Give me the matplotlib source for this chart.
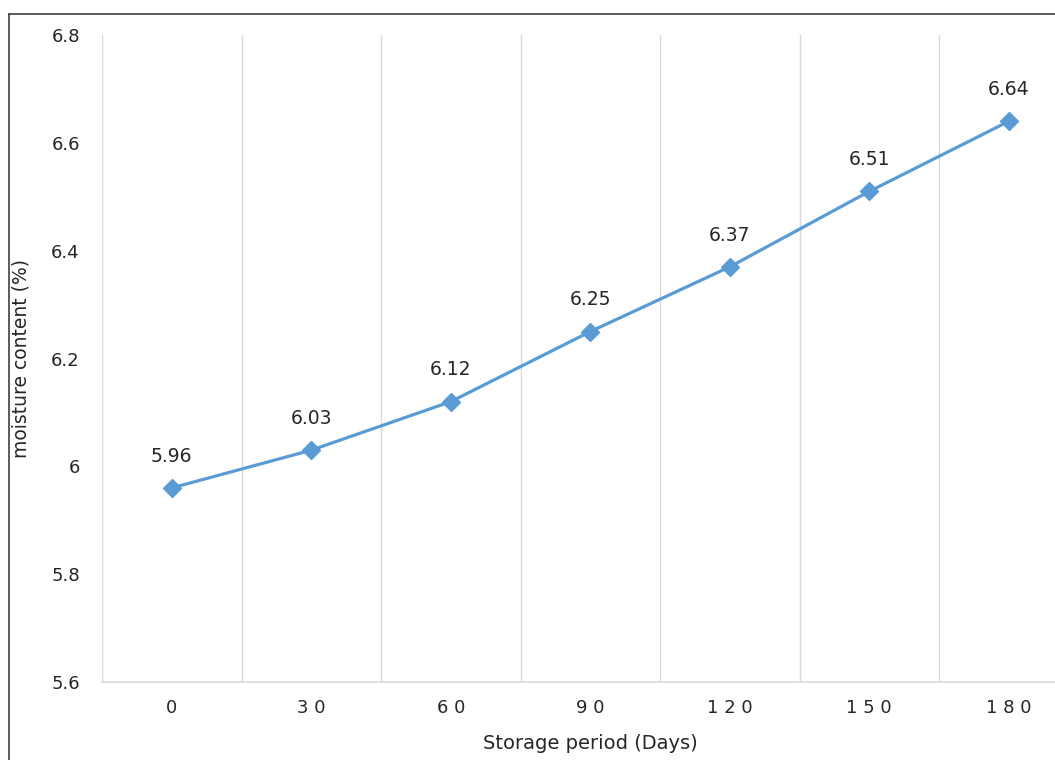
import matplotlib.pyplot as plt
from matplotlib.lines import Line2D

# moisture content over the storage period
days = [0, 30, 60, 90, 120, 150, 180]
day_labels = ["0", "3 0", "6 0", "9 0", "1 2 0", "1 5 0", "1 8 0"]
moisture = [5.96, 6.03, 6.12, 6.25, 6.37, 6.51, 6.64]
y_ticks = [5.6, 5.8, 6.0, 6.2, 6.4, 6.6, 6.8]
y_tick_labels = ["5.6", "5.8", "6", "6.2", "6.4", "6.6", "6.8"]

plt.rcParams['font.family'] = ['DejaVu Sans']

line_color = '#5B9BD5'
grid_color = '#D9D9D9'
text_color = '#404040'

fig = plt.figure(figsize=(10.55, 7.6), dpi=100)
ax = fig.add_axes([0.0967, 0.1026, 0.9256, 0.8513])

x = list(range(len(days)))
ax.plot(x, moisture, color=line_color, linewidth=2.3, marker='D',
        markersize=9, markerfacecolor=line_color, markeredgecolor=line_color)

for xi, v in zip(x, moisture):
    ax.annotate(f"{v:.2f}", (xi, v), xytext=(0, 16), textcoords='offset points',
                ha='center', va='bottom', fontsize=13.5, color='#262626')

ax.set_xlim(-0.5, len(days) - 0.5)
ax.set_ylim(5.6, 6.8)

# vertical gridlines sit between the categories
ax.set_xticks([i + 0.5 for i in range(-1, len(days))], minor=True)
ax.grid(True, which='minor', axis='x', color=grid_color, linewidth=1)
ax.set_xticks(x)
ax.set_xticklabels(day_labels)
ax.set_yticks(y_ticks)
ax.set_yticklabels(y_tick_labels)
ax.tick_params(axis='both', which='both', length=0, labelsize=13, colors='#262626')
ax.tick_params(axis='x', pad=12)
ax.tick_params(axis='y', pad=16)

for side in ['top', 'right', 'left']:
    ax.spines[side].set_visible(False)
ax.spines['bottom'].set_color(grid_color)
ax.spines['bottom'].set_linewidth(1.2)

ax.set_xlabel("Storage period (Days)", fontsize=14, color='#262626')
ax.set_ylabel("moisture content (%)", fontsize=13.5, color='#262626')
ax.xaxis.set_label_coords((590 - 102) / 976.5, -0.080)
ax.yaxis.set_label_coords(-(102 - 30) / 976.5, 0.5)

# outer frame around the chart area
fig.add_artist(Line2D([0.009, 1.0], [0.9822, 0.9822], transform=fig.transFigure,
                      color=text_color, linewidth=1.2))
fig.add_artist(Line2D([0.009, 0.009], [0.0, 0.9822], transform=fig.transFigure,
                      color=text_color, linewidth=1.2))

fig.savefig('out.png', dpi=100)
